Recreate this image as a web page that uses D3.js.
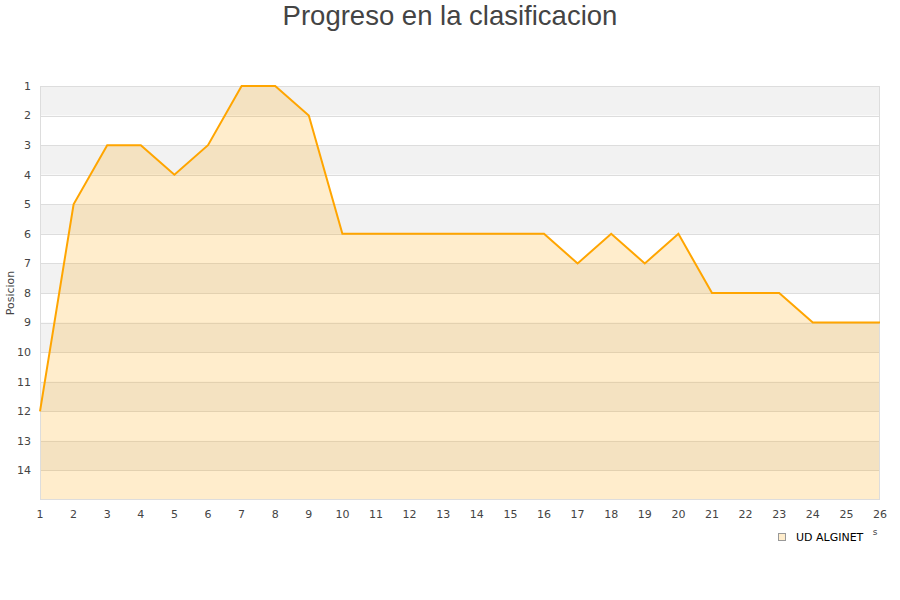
<!DOCTYPE html>
<html><head><meta charset="utf-8">
<script src="https://cdn.jsdelivr.net/npm/d3@7"></script>
<style>body{margin:0;background:#fff}svg{display:block}</style>
</head><body>
<svg id="c" width="900" height="600"></svg>
<script>
const jornadas = [1,2,3,4,5,6,7,8,9,10,11,12,13,14,15,16,17,18,19,20,21,22,23,24,25,26];
const posiciones = [12,5,3,3,4,3,1,1,2,6,6,6,6,6,6,6,7,6,7,6,8,8,8,9,9,9];
const yTicks = [1,2,3,4,5,6,7,8,9,10,11,12,13,14];
const equipo = "UD ALGINET";
const titulo = "Progreso en la clasificacion";

const svg = d3.select("#c");
const L=40, R=880, T=86, B=500;
const x = d3.scaleLinear().domain([1,26]).range([L,R]);
const y = d3.scaleLinear().domain([1,15]).range([T,B]);
const font = "'DejaVu Sans', sans-serif";

// bands
const bands = d3.range(1,15);
svg.append("g").selectAll("rect").data(bands).join("rect")
  .attr("x",L).attr("width",R-L)
  .attr("y",d=>y(d)).attr("height",d=>y(d+1)-y(d))
  .attr("fill",d=>d%2===1?"#f2f2f2":"#ffffff");
// grid lines
svg.append("g").selectAll("line").data(d3.range(2,15)).join("line")
  .attr("x1",L).attr("x2",R).attr("y1",d=>Math.round(y(d))+0.5).attr("y2",d=>Math.round(y(d))+0.5)
  .attr("stroke","#dddddd").attr("stroke-width",1);

// area
const area = d3.area().x((d,i)=>x(jornadas[i])).y0(y(15)).y1(d=>y(d));
svg.append("path").datum(posiciones).attr("d",area)
  .attr("fill","#ffa500").attr("fill-opacity",0.2);
// border
svg.append("rect").attr("x",L+0.5).attr("y",T+0.5).attr("width",R-L-1).attr("height",B-T-1)
  .attr("fill","none").attr("stroke","#dddddd");
// line
const line = d3.line().x((d,i)=>x(jornadas[i])).y(d=>y(d));
svg.append("path").datum(posiciones).attr("d",line)
  .attr("fill","none").attr("stroke","#ffa500").attr("stroke-width",2).attr("stroke-linejoin","miter");

// y axis labels
svg.append("g").selectAll("text").data(yTicks).join("text")
  .attr("x",31).attr("y",d=>y(d)).attr("dy","0.35em").attr("text-anchor","end")
  .attr("font-family",font).attr("font-size",11).attr("fill","#444").text(d=>d);
// x axis labels
svg.append("g").selectAll("text").data(jornadas).join("text")
  .attr("x",d=>x(d)).attr("y",518).attr("text-anchor","middle")
  .attr("font-family",font).attr("font-size",11).attr("fill","#444").text(d=>d);

// y title
svg.append("text").attr("transform","translate(14,293) rotate(-90)").attr("text-anchor","middle")
  .attr("font-family",font).attr("font-size",11).attr("fill","#444").text("Posicion");

// visible tail of the x title (rest hidden behind the legend)
svg.append("text").attr("x",875).attr("y",535).attr("text-anchor","middle")
  .attr("font-family",font).attr("font-size",9).attr("fill","#444").text("s");

// title
svg.append("text").attr("x",450).attr("y",25).attr("text-anchor","middle")
  .attr("font-family","'Liberation Sans', Arial, sans-serif").attr("font-size",27.5).attr("fill","#444").text(titulo);

// legend
svg.append("rect").attr("x",778.5).attr("y",533.5).attr("width",7).attr("height",7)
  .attr("fill","#ffedcc").attr("stroke","#999");
svg.append("text").attr("x",796).attr("y",537).attr("dy","0.35em")
  .attr("font-family",font).attr("font-size",11).attr("fill","#000").text(equipo);
</script>
</body></html>
